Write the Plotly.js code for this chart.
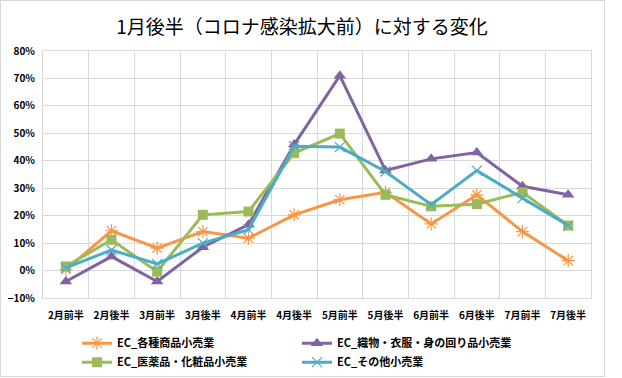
<!DOCTYPE html>
<html>
<head>
<meta charset="utf-8">
<script src="https://cdn.plot.ly/plotly-3.0.1.min.js"></script>
<style>
  html, body { margin: 0; padding: 0; background: #fff; }
  #wrap { position: relative; width: 622px; height: 378px; }
  #chart { position: absolute; left: 0; top: 0; width: 622px; height: 378px; }
  #frame { position: absolute; left: 0; top: 0; width: 603px; height: 375px; border: 1px solid #D9D9D9; pointer-events: none; }
</style>
</head>
<body>
<div id="wrap"><div id="chart"></div><div id="frame"></div></div>
<script>
const categories = ["2月前半","2月後半","3月前半","3月後半","4月前半","4月後半","5月前半","5月後半","6月前半","6月後半","7月前半","7月後半"];
const seriesNames = ["EC_各種商品小売業","EC_織物・衣服・身の回り品小売業","EC_医薬品・化粧品小売業","EC_その他小売業"];
const sogo   = [0.3, 14.5, 8.2, 14.2, 11.8, 20.3, 25.8, 28.5, 17.0, 27.6, 14.2, 3.6];
const orimono= [-4.0, 5.1, -4.0, 8.5, 16.7, 45.9, 71.0, 36.5, 40.7, 43.0, 30.7, 27.6];
const iyaku  = [1.5, 11.2, -0.4, 20.3, 21.5, 42.8, 49.9, 27.6, 23.4, 24.2, 28.5, 16.4];
const sonota = [1.0, 7.5, 2.4, 10.0, 14.9, 45.3, 45.0, 36.1, 24.0, 36.4, 26.4, 16.4];
const yTickMin = -10, yTickMax = 80, yTickStep = 10;

const colors = ["#F79646", "#8064A2", "#9BBB59", "#4BACC6"];
const symbols = ["asterisk-open", "triangle-up", "square", "x-thin-open"];
const sizes = [11, 11, 10, 10];
const legendIds = ["legend", "legend2", "legend", "legend2"];
const values = [sogo, orimono, iyaku, sonota];

const traces = values.map((v, i) => ({
  type: "scatter", mode: "lines+markers",
  name: seriesNames[i], x: categories, y: v,
  legend: legendIds[i],
  line: { color: colors[i], width: 3 },
  marker: { symbol: symbols[i], size: sizes[i], color: colors[i],
            line: { color: colors[i], width: (i === 0 || i === 3) ? 1.2 : 0 } },
  hoverinfo: "skip"
}));

const zeroPos = (0 - yTickMin) / (yTickMax - yTickMin);
const tickFont = { family: "Noto Sans CJK JP", size: 10, color: "#000", weight: "bold" };
const legendFont = { family: "Noto Sans CJK JP", size: 11, color: "#000", weight: "bold" };

const layout = {
  width: 622, height: 378,
  margin: { l: 43, r: 31, t: 51, b: 80, autoexpand: false },
  paper_bgcolor: "#fff", plot_bgcolor: "#fff",
  font: { family: "Noto Sans CJK JP", color: "#000" },
  title: { text: "1月後半（コロナ感染拡大前）に対する変化",
           font: { family: "Noto Sans CJK JP", size: 19, color: "#000" },
           x: 302 / 622, xref: "container", xanchor: "center",
           y: 1 - 27 / 378, yref: "container", yanchor: "middle" },
  showlegend: true,
  legend: { orientation: "v", x: (77 - 43) / 548, xanchor: "left", y: -0.124, yanchor: "top",
            font: legendFont, traceorder: "normal", tracegroupgap: 0, bgcolor: "rgba(0,0,0,0)" },
  legend2: { orientation: "v", x: (297 - 43) / 548, xanchor: "left", y: -0.124, yanchor: "top",
            font: legendFont, traceorder: "normal", tracegroupgap: 0, bgcolor: "rgba(0,0,0,0)" },
  xaxis: {
    type: "category", categoryorder: "array", categoryarray: categories,
    range: [-0.5, categories.length - 0.5],
    tickson: "boundaries", ticks: "", showgrid: true, gridcolor: "#D9D9D9", gridwidth: 1,
    showline: true, linecolor: "#D9D9D9", linewidth: 1, mirror: true,
    tickfont: tickFont, ticklabelstandoff: 8, fixedrange: true, zeroline: false
  },
  xaxis2: {
    type: "category", categoryorder: "array", categoryarray: categories,
    range: [-0.5, categories.length - 0.5],
    overlaying: "x", anchor: "free", position: zeroPos, side: "bottom",
    tickson: "boundaries", ticks: "outside", ticklen: 3, tickcolor: "#000", tickwidth: 1,
    showticklabels: false, showgrid: false, showline: true, linecolor: "#000", linewidth: 1
  },
  xaxis3: {
    type: "category", categoryorder: "array", categoryarray: categories,
    range: [-0.5, categories.length - 0.5],
    overlaying: "x", anchor: "free", position: zeroPos, side: "bottom",
    tickson: "boundaries", ticks: "inside", ticklen: 4, tickcolor: "#000", tickwidth: 1,
    showticklabels: false, showgrid: false, showline: false
  },
  yaxis: {
    range: [yTickMin, yTickMax], dtick: yTickStep, tick0: 0, ticksuffix: "%",
    showgrid: true, gridcolor: "#D9D9D9", gridwidth: 1,
    showline: true, linecolor: "#D9D9D9", linewidth: 1, mirror: true,
    zeroline: false, ticks: "", tickfont: tickFont, ticklabelstandoff: 5, fixedrange: true
  }
};

Plotly.newPlot("chart", traces, layout, { displayModeBar: false, staticPlot: true });
</script>
</body>
</html>
